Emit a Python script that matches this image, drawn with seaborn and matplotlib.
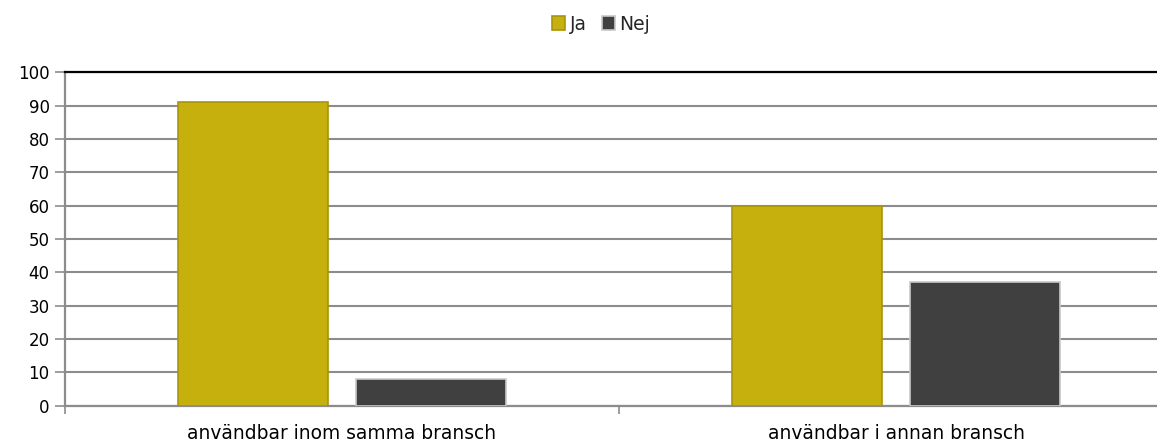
import matplotlib
matplotlib.use("Agg")
import matplotlib.pyplot as plt
import seaborn as sns
import pandas as pd
from matplotlib.patches import Patch

categories = ["användbar inom samma bransch", "användbar i annan bransch"]
series = ["Ja", "Nej"]
ja_values = [91, 60]
nej_values = [8, 37]
colors = {"Ja": "#C5B00D", "Nej": "#404040"}
edges = {"Ja": "#A8950A", "Nej": "#C8C8C8"}

df = pd.DataFrame({
    "kategori": categories * 2,
    "svar": ["Ja"] * len(categories) + ["Nej"] * len(categories),
    "procent": ja_values + nej_values,
})

sns.set_theme(style="white")
plt.rcParams["font.family"] = ["DejaVu Sans"]

fig = plt.figure(figsize=(11.57, 4.43), dpi=100)
ax = fig.add_axes([65 / 1157, 37.3 / 443, 1108 / 1157, 333.4 / 443])

sns.barplot(data=df, x="kategori", y="procent", hue="svar", order=categories,
            hue_order=series, palette=colors, saturation=1, width=0.646, gap=0.162,
            legend=False, ax=ax, zorder=3)

for container, name in zip(ax.containers, series):
    for bar in container:
        bar.set_edgecolor(edges[name])
        bar.set_linewidth(1.2)

ax.set_ylim(0, 100)
ax.set_xlim(-0.5, 1.5)
ax.set_yticks(range(0, 101, 10))
ax.yaxis.grid(True, color="#8C8C8C", linewidth=1.5, zorder=0)
ax.set_axisbelow(True)
ax.set_xlabel("")
ax.set_ylabel("")

ax.spines["right"].set_visible(False)
ax.spines["top"].set_color("black")
ax.spines["top"].set_linewidth(1.6)
ax.spines["left"].set_color("#8C8C8C")
ax.spines["left"].set_linewidth(1.6)
ax.spines["bottom"].set_color("#8C8C8C")
ax.spines["bottom"].set_linewidth(1.6)

ax.tick_params(axis="y", which="major", length=7, width=1.2, color="#8C8C8C",
               direction="out", left=True, labelsize=12, labelcolor="black", pad=4)
ax.tick_params(axis="x", which="major", length=0, labelsize=13.4,
               labelcolor="black", pad=13)
ax.set_xticks([-0.5, 0.5, 1.5], minor=True)
ax.tick_params(axis="x", which="minor", length=6, width=1.2, color="#8C8C8C",
               direction="out", bottom=True)

handles = [Patch(facecolor=colors[s], edgecolor=edges[s], linewidth=1.2, label=s)
           for s in series]
fig.legend(handles=handles, loc="center", bbox_to_anchor=(601 / 1157, 1 - 24 / 443),
           ncol=2, frameon=False, fontsize=13.5, handlelength=0.7, handleheight=0.7,
           handletextpad=0.25, columnspacing=0.8)

fig.savefig("out.png", dpi=100)
